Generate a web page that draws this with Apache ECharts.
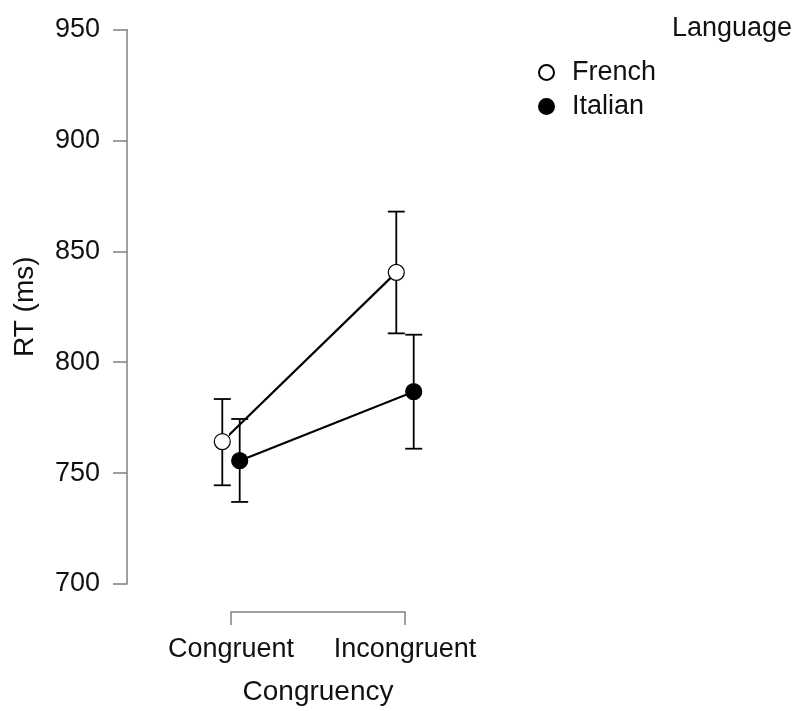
<!DOCTYPE html>
<html>
<head>
<meta charset="utf-8">
<script src="https://cdn.jsdelivr.net/npm/echarts@6/dist/echarts.min.js"></script>
<style>
html,body{margin:0;padding:0;background:#fff;}
#chart{width:800px;height:711px;}
</style>
</head>
<body>
<div id="chart"></div>
<script>
// ---- data ----
const categories = ['Congruent', 'Incongruent'];
const seriesNames = ['French', 'Italian'];
const frenchMean = [764.2, 840.5];
const frenchLower = [744.5, 813.0];
const frenchUpper = [783.4, 867.9];
const italianMean = [755.6, 786.7];
const italianLower = [737.0, 761.0];
const italianUpper = [774.4, 812.4];
const yTicks = [700, 750, 800, 850, 900, 950];

const DODGE = 0.05;
const FONT = '"Liberation Sans", Arial, Helvetica, sans-serif';
const AXIS_GRAY = '#808080';

function pts(mean, shift) {
  return mean.map((v, i) => [i + shift, v]);
}
function errs(lower, upper, shift) {
  return lower.map((v, i) => [i + shift, v, upper[i]]);
}

function errorRender(params, api) {
  const x = api.value(0);
  const lo = api.coord([x, api.value(1)]);
  const hi = api.coord([x, api.value(2)]);
  const cap = 8.5;
  const style = { stroke: '#000', lineWidth: 1.8 };
  return {
    type: 'group',
    children: [
      { type: 'line', shape: { x1: lo[0], y1: lo[1], x2: hi[0], y2: hi[1] }, style },
      { type: 'line', shape: { x1: lo[0] - cap, y1: lo[1], x2: lo[0] + cap, y2: lo[1] }, style },
      { type: 'line', shape: { x1: hi[0] - cap, y1: hi[1], x2: hi[0] + cap, y2: hi[1] }, style }
    ]
  };
}

const chart = echarts.init(document.getElementById('chart'), null, { renderer: 'canvas' });
const option = {
  animation: false,
  backgroundColor: '#ffffff',
  textStyle: { fontFamily: FONT },
  title: {
    text: 'Language',
    left: 667,
    top: 10,
    textStyle: { fontFamily: FONT, fontSize: 27, fontWeight: 'normal', color: '#111' }
  },
  legend: {
    orient: 'vertical',
    left: 533,
    top: 54,
    itemWidth: 15,
    itemHeight: 15,
    itemGap: 7,
    icon: 'circle',
    data: seriesNames,
    textStyle: { fontFamily: FONT, fontSize: 27, color: '#111', padding: [0, 0, 0, 13] }
  },
  grid: { left: 231, right: 395, top: 29.5, bottom: 127, containLabel: false, outerBoundsMode: 'none' },
  xAxis: {
    type: 'value',
    min: 0,
    max: 1,
    interval: 1,
    offset: 28,
    axisLine: { show: true, onZero: false, lineStyle: { color: AXIS_GRAY, width: 1.5 } },
    axisTick: { show: true, length: 13, lineStyle: { color: AXIS_GRAY, width: 1.5 } },
    splitLine: { show: false },
    axisLabel: {
      margin: 24,
      fontSize: 27,
      color: '#111',
      fontFamily: FONT,
      formatter: v => categories[Math.round(v)] || ''
    },
    name: 'Congruency',
    nameLocation: 'middle',
    nameGap: 66,
    nameTextStyle: { fontSize: 28, color: '#111', fontFamily: FONT }
  },
  yAxis: {
    type: 'value',
    min: yTicks[0],
    max: yTicks[yTicks.length - 1],
    interval: yTicks[1] - yTicks[0],
    offset: 104,
    axisLine: { show: true, onZero: false, lineStyle: { color: AXIS_GRAY, width: 1.5 } },
    axisTick: { show: true, length: 14, lineStyle: { color: AXIS_GRAY, width: 1.5 } },
    splitLine: { show: false },
    axisLabel: { margin: 27, fontSize: 27, color: '#111', fontFamily: FONT },
    name: 'RT (ms)',
    nameLocation: 'middle',
    nameRotate: 90,
    nameGap: 88,
    nameTextStyle: { fontSize: 28, color: '#111', fontFamily: FONT }
  },
  series: [
    {
      type: 'custom',
      name: 'French-err',
      renderItem: errorRender,
      data: errs(frenchLower, frenchUpper, -DODGE),
      encode: { x: 0, y: [1, 2] },
      clip: false,
      z: 1,
      silent: true
    },
    {
      type: 'custom',
      name: 'Italian-err',
      renderItem: errorRender,
      data: errs(italianLower, italianUpper, DODGE),
      encode: { x: 0, y: [1, 2] },
      clip: false,
      z: 1,
      silent: true
    },
    {
      type: 'line',
      name: seriesNames[0],
      data: pts(frenchMean, -DODGE),
      clip: false,
      symbol: 'circle',
      symbolSize: 16,
      lineStyle: { color: '#000', width: 2.2 },
      itemStyle: { color: '#ffffff', borderColor: '#000', borderWidth: 1.2 },
      z: 3
    },
    {
      type: 'line',
      name: seriesNames[1],
      data: pts(italianMean, DODGE),
      clip: false,
      symbol: 'circle',
      symbolSize: 16,
      lineStyle: { color: '#000', width: 2.2 },
      itemStyle: { color: '#000000', borderColor: '#000', borderWidth: 1.2 },
      z: 3
    }
  ]
};
chart.setOption(option);
</script>
</body>
</html>
